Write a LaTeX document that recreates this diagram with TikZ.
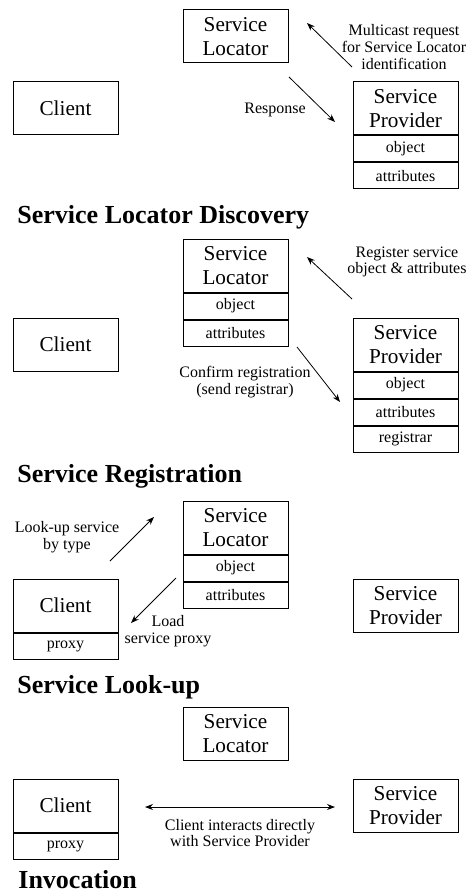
\documentclass[tikz,border=0pt]{standalone}
\usepackage{fontspec}
\setmainfont{Liberation Serif}
\usetikzlibrary{positioning,arrows.meta}

\begin{document}
\begin{tikzpicture}[x=0.5pt,y=0.5pt,yscale=-1,
    headbox/.style={draw,line width=0.5pt,minimum width=52.5pt,minimum height=26.5pt,inner sep=0pt,align=center,font=\fontsize{10.6}{11.6}\selectfont},
    rowbox/.style={draw,line width=0.5pt,minimum width=52.5pt,minimum height=13pt,inner sep=0pt,font=\fontsize{8}{8.5}\selectfont},
    msg/.style={inner sep=0pt,align=center,font=\fontsize{8}{8.4}\selectfont},
    title/.style={anchor=base west,inner sep=0pt,font=\fontsize{13}{15}\selectfont\bfseries},
    flow/.style={line width=0.4pt,-{Stealth[length=4pt,width=3pt]}}]
    \useasboundingbox (0,0) rectangle (475,893);

    %Panel 1: discovery
    \node [headbox] (sl1) at (235.5,36.5) {Service\\Locator};
    \node [headbox] (cl1) at (65.5,108.5) {Client};
    \node [headbox] (sp1) at (405.5,108.5) {Service\\Provider};
    \node [rowbox, below=0pt of sp1] (sp1obj) {object};
    \node [rowbox, below=0pt of sp1obj] (sp1att) {attributes};
    \coordinate (m1a) at (352,67);
    \coordinate (m1b) at (307,23);
    \coordinate (r1a) at (289,77);
    \coordinate (r1b) at (335,122);
    \draw [flow] (m1a) -- (m1b);
    \draw [flow] (r1a) -- (r1b);
    % Text Node
    \node [msg] (t1a) at (404,47) {Multicast request\\for Service Locator\\identification};
    % Text Node
    \node [msg] (t1b) at (275,110) {Response};
    \node [title] (h1) at (17,224) {Service Locator Discovery};

    %Panel 2: registration
    \node [headbox] (sl2) at (235.5,265.5) {Service\\Locator};
    \node [rowbox, below=0pt of sl2] (sl2obj) {object};
    \node [rowbox, below=0pt of sl2obj] (sl2att) {attributes};
    \node [headbox] (cl2) at (65.5,344.5) {Client};
    \node [headbox] (sp2) at (405.5,344.5) {Service\\Provider};
    \node [rowbox, below=0pt of sp2] (sp2obj) {object};
    \node [rowbox, below=0pt of sp2obj] (sp2att) {attributes};
    \node [rowbox, below=0pt of sp2att] (sp2reg) {registrar};
    \coordinate (m2a) at (352,299);
    \coordinate (m2b) at (307,257);
    \coordinate (r2a) at (297,347);
    \coordinate (r2b) at (340,402);
    \draw [flow] (m2a) -- (m2b);
    \draw [flow] (r2a) -- (r2b);
    % Text Node
    \node [msg] (t2a) at (407,262) {Register service\\object \& attributes};
    % Text Node
    \node [msg] (t2b) at (245,382) {Confirm registration\\(send registrar)};
    \node [title] (h2) at (17,482) {Service Registration};

    %Panel 3: look-up
    \node [headbox] (sl3) at (235.5,527.5) {Service\\Locator};
    \node [rowbox, below=0pt of sl3] (sl3obj) {object};
    \node [rowbox, below=0pt of sl3obj] (sl3att) {attributes};
    \node [headbox] (cl3) at (65.5,605.5) {Client};
    \node [rowbox, below=0pt of cl3] (cl3prx) {proxy};
    \node [headbox] (sp3) at (405.5,605.5) {Service\\Provider};
    \coordinate (m3a) at (110,561);
    \coordinate (m3b) at (154,517);
    \coordinate (r3a) at (176,578);
    \coordinate (r3b) at (131,623);
    \draw [flow] (m3a) -- (m3b);
    \draw [flow] (r3a) -- (r3b);
    % Text Node
    \node [msg] (t3a) at (67,537) {Look-up service\\by type};
    % Text Node
    \node [msg] (t3b) at (168,631) {Load\\service proxy};
    \node [title] (h3) at (17,693) {Service Look-up};

    %Panel 4: invocation
    \node [headbox] (sl4) at (235.5,733.5) {Service\\Locator};
    \node [headbox] (cl4) at (65.5,805.5) {Client};
    \node [rowbox, below=0pt of cl4] (cl4prx) {proxy};
    \node [headbox] (sp4) at (405.5,805.5) {Service\\Provider};
    \coordinate (i4a) at (145,807);
    \coordinate (i4b) at (335,807);
    \draw [flow,{Stealth[length=4pt,width=3pt]}-{Stealth[length=4pt,width=3pt]}] (i4a) -- (i4b);
    % Text Node
    \node [msg] (t4) at (240,833) {Client interacts directly\\with Service Provider};
    \node [title] (h4) at (18,888) {Invocation};

\end{tikzpicture}
\end{document}
